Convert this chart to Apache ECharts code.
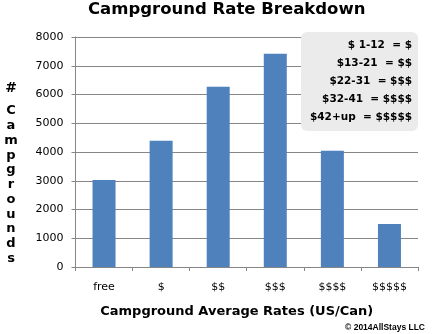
<!DOCTYPE html>
<html>
<head>
<meta charset="utf-8">
<style>html,body{margin:0;padding:0;background:#fff;}#c{width:433px;height:334px;}</style>
<script src="https://cdn.jsdelivr.net/npm/echarts@6/dist/echarts.min.js"></script>
</head>
<body>
<div id="c"></div>
<script>
var categories = ['free', '$', '$$', '$$$', '$$$$', '$$$$$'];
var campgrounds = [3030, 4390, 6270, 7420, 4040, 1500];
var rateKey = ['$ 1-12  = $', '$13-21  = $$', '$22-31  = $$$', '$32-41  = $$$$', '$42+up  = $$$$$'];
var yAxisLetters = ['C', 'a', 'm', 'p', 'g', 'r', 'o', 'u', 'n', 'd', 's'];

var chart = echarts.init(document.getElementById('c'), null, {renderer: 'canvas'});
var gridColor = '#868686';
var boldFont = 'DejaVu Sans';

var graphics = [
  {type: 'text', x: 11, y: 88, style: {text: '#', font: 'bold 14px "DejaVu Sans"', fill: '#000', textAlign: 'center', textVerticalAlign: 'middle'}},
  {type: 'text', x: 11, y: 103.5, style: {text: yAxisLetters.join('\n'), font: 'bold 13px "DejaVu Sans"', lineHeight: 14.75, fill: '#000', textAlign: 'center', textVerticalAlign: 'top'}},
  {type: 'rect', shape: {x: 301, y: 32, width: 117, height: 99, r: 6}, style: {fill: '#ebebeb'}, z: 100},
  {type: 'text', x: 425, y: 328, style: {text: '\u00a9 2014AllStays LLC', font: 'bold 8.5px "Liberation Sans"', fill: '#000', textAlign: 'right', textVerticalAlign: 'middle'}, z: 100}
];
rateKey.forEach(function (t, i) {
  graphics.push({type: 'text', x: 412, y: 45 + 18 * i, z: 101,
    style: {text: t, font: 'bold 10.5px "DejaVu Sans"', fill: '#000', textAlign: 'right', textVerticalAlign: 'middle'}});
});

chart.setOption({
  animation: false,
  backgroundColor: '#fff',
  title: {
    text: 'Campground Rate Breakdown',
    left: 88, top: 0, padding: [1, 0, 0, 0],
    textStyle: {fontFamily: boldFont, fontWeight: 'bold', fontSize: 16.5, color: '#000'}
  },
  grid: {left: 75.5, right: 15, top: 37, bottom: 67, containLabel: false},
  xAxis: {
    type: 'category',
    data: categories,
    name: 'Campground Average Rates (US/Can)',
    nameLocation: 'middle',
    nameGap: 38,
    nameTextStyle: {fontFamily: boldFont, fontWeight: 'bold', fontSize: 13, color: '#000', padding: [0, 20, 0, 0]},
    axisLine: {lineStyle: {color: gridColor, width: 1}},
    axisTick: {show: true, length: 4, lineStyle: {color: gridColor}},
    axisLabel: {fontFamily: 'DejaVu Sans', fontSize: 11, color: '#000', margin: 15}
  },
  yAxis: {
    type: 'value',
    min: 0, max: 8000, interval: 1000,
    axisLine: {show: true, lineStyle: {color: gridColor, width: 1}},
    axisTick: {show: true, length: 4, lineStyle: {color: gridColor}},
    axisLabel: {fontFamily: 'DejaVu Sans', fontSize: 11, color: '#000', margin: 12,
      formatter: function (v) { return String(v); }},
    splitLine: {lineStyle: {color: gridColor, width: 1}}
  },
  series: [{
    type: 'bar',
    data: campgrounds,
    barWidth: 23,
    itemStyle: {color: '#4f81bd'}
  }],
  graphic: graphics
});
</script>
</body>
</html>
